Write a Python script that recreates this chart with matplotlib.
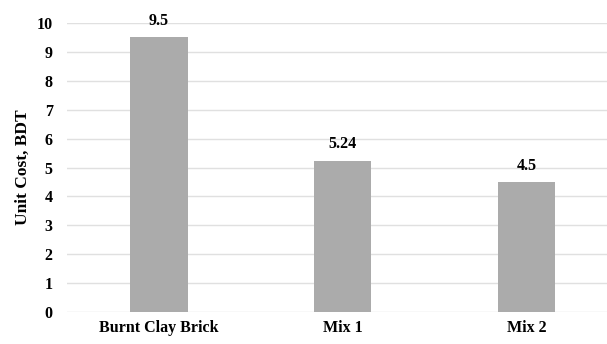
import matplotlib.pyplot as plt

# Dane
categories = ['Burnt Clay Brick', 'Mix 1', 'Mix 2']
unit_cost = [9.5, 5.24, 4.5]
value_labels = ['9.5', '5.24', '4.5']

plt.rcParams['font.family'] = ['Liberation Serif', 'DejaVu Serif']
plt.rcParams['font.weight'] = 'bold'

fig = plt.figure(figsize=(6.07, 3.44), dpi=100)
ax = fig.add_axes([0.1096, 0.093, 0.8904, 0.84])

x = range(len(categories))
bars = ax.bar(x, unit_cost, width=0.315, color='#ABABAB', zorder=2)

# Etykiety wartości nad słupkami
for rect, lab in zip(bars, value_labels):
    ax.annotate(lab, (rect.get_x() + rect.get_width() / 2, rect.get_height()),
                xytext=(0, 6), textcoords='offset points', ha='center', va='bottom',
                fontsize=11.5, fontweight='bold')

ax.set_ylim(0, 10)
ax.set_xlim(-0.5, 2.4375)
ax.set_yticks(range(0, 11))
ax.set_xticks(list(x))
ax.set_xticklabels(categories, fontsize=11.5, fontweight='bold')
for lab in ax.get_yticklabels():
    lab.set_fontsize(11.5)
    lab.set_fontweight('bold')

ax.set_ylabel('Unit Cost, BDT', fontsize=12.5, fontweight='bold', labelpad=4)

# Siatka
ax.grid(axis='y', color='#E0E0E0', linewidth=1, zorder=0)
for s in ax.spines.values():
    s.set_visible(False)
ax.tick_params(axis='y', length=0, pad=10)
ax.tick_params(axis='x', length=0, pad=6)

fig.savefig('out.png', dpi=100)
